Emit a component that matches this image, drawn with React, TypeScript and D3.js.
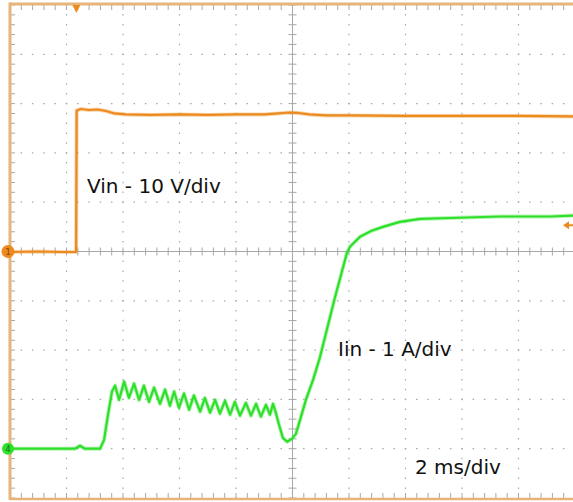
import React from 'react';
import * as d3 from 'd3';

// Vin (channel 1), 10 V/div, ground at centre line
const vinTime = [-10, -9, -8.2, -7.66, -7.64, -7.5, -7.2, -6.9, -6.6, -6.3, -5.9, -5, -4, -3, -2, -1, -0.5, -0.1, 0.2, 0.6, 1.2, 2, 4, 6, 8, 10];
const vinVolts = [-0.1, 0.0, -0.1, -0.1, 28.6, 28.9, 28.7, 28.8, 28.5, 28.0, 27.8, 27.7, 27.8, 27.7, 27.8, 27.8, 28.0, 28.2, 28.1, 27.8, 27.6, 27.6, 27.5, 27.5, 27.5, 27.4];

// Iin (channel 4), 1 A/div, ground 4 div below centre
const iinTime = [
  -10, -8.5, -7.7, -7.52, -7.35, -6.81, -6.67, -6.53, -6.39, -6.28, -6.14, -5.96, -5.79, -5.61, -5.43,
  -5.26, -5.08, -4.9, -4.69, -4.51, -4.34, -4.19, -4.02, -3.84, -3.66, -3.49, -3.27, -3.1, -2.92,
  -2.74, -2.57, -2.39, -2.21, -2.04, -1.86, -1.65, -1.47, -1.29, -1.12, -0.94, -0.8, -0.69, -0.58,
  -0.48, -0.34, -0.19, -0.02, 0.12, 0.27, 0.48, 0.73, 0.97, 1.5, 1.93, 2.04, 2.39, 2.8,
  3.2, 3.8, 4.51, 5.58, 7.35, 9.12, 10,
];
const iinAmps = [
  0, 0, 0, 0.06, 0, 0, 0.18, 0.69, 1.16, 1.28, 0.99, 1.36, 1.03, 1.32, 0.99,
  1.28, 0.95, 1.24, 0.91, 1.2, 0.87, 1.16, 0.83, 1.12, 0.79, 1.08, 0.75, 1.03, 0.73,
  0.99, 0.71, 0.97, 0.69, 0.95, 0.67, 0.93, 0.67, 0.91, 0.65, 0.89, 0.69, 0.91, 0.71,
  0.49, 0.22, 0.14, 0.2, 0.3, 0.59, 1.0, 1.4, 1.85, 3.06, 3.98, 4.1, 4.3, 4.42,
  4.5, 4.6, 4.66, 4.68, 4.71, 4.71, 4.73,
];

const labels = ['Vin - 10 V/div', 'Iin - 1 A/div', '2 ms/div'];
const triggerTime = -7.65;
const triggerLevelVolts = 5.3;

const W = 573;
const H = 502;
const left = 10;
const right = 575;
const top = 5;
const bottom = 498;

const ORANGE = '#ec8a1e';
const GREEN = '#2ee02a';
const FRAME = '#e8b47a';
const GRID = '#a8a8a8';

export default function App() {
  const x = d3.scaleLinear().domain([-10, 10]).range([left, right]);
  const y = d3.scaleLinear().domain([-5, 5]).range([bottom, top]);

  const majorX = d3.range(-10, 10.01, 2);
  const majorY = d3.range(-5, 5.01, 1);
  const minorX = d3.range(-10, 10.01, 0.4);
  const minorY = d3.range(-5, 5.01, 0.2);

  const vinLine = d3
    .line<number>()
    .x((_, i) => x(vinTime[i]))
    .y((d) => y(d / 10));
  const iinLine = d3
    .line<number>()
    .x((_, i) => x(iinTime[i]))
    .y((d) => y(d - 4));

  const dx = x(0.4) - x(0);
  const dy = y(0) - y(0.2);

  const vinD = vinLine(vinVolts) ?? '';
  const iinD = iinLine(iinAmps) ?? '';

  return (
    <svg width={W} height={H} style={{ position: 'absolute', left: 0, top: 0, background: '#fff' }}>
      {/* dotted grid */}
      {majorX.filter((t) => t !== 0 && t !== -10).map((t) => (
        <line key={'gx' + t} x1={x(t)} x2={x(t)} y1={top - 0.75} y2={bottom}
          stroke={GRID} strokeWidth={1.2} strokeDasharray={`1.5 ${dy - 1.5}`} />
      ))}
      {majorY.filter((v) => v !== 0 && v !== 5 && v !== -5).map((v) => (
        <line key={'gy' + v} x1={left - 0.75} x2={right} y1={y(v)} y2={y(v)}
          stroke={GRID} strokeWidth={1.2} strokeDasharray={`1.5 ${dx - 1.5}`} />
      ))}

      {/* centre cross with ticks */}
      <line x1={left} x2={right} y1={y(0)} y2={y(0)} stroke={GRID} strokeWidth={1} />
      <line x1={x(0)} x2={x(0)} y1={top} y2={bottom} stroke={GRID} strokeWidth={1} />
      {minorX.map((t) => (
        <line key={'cx' + t} x1={x(t)} x2={x(t)} y1={y(0) - 4} y2={y(0) + 4} stroke={GRID} strokeWidth={1} />
      ))}
      {minorY.map((v) => (
        <line key={'cy' + v} x1={x(0) - 4} x2={x(0) + 4} y1={y(v)} y2={y(v)} stroke={GRID} strokeWidth={1} />
      ))}

      {/* frame ticks */}
      {minorX.map((t) => (
        <g key={'fx' + t}>
          <line x1={x(t)} x2={x(t)} y1={top} y2={top + 5} stroke={GRID} strokeWidth={1} />
          <line x1={x(t)} x2={x(t)} y1={bottom} y2={bottom - 5} stroke={GRID} strokeWidth={1} />
        </g>
      ))}
      {minorY.map((v) => (
        <line key={'fy' + v} x1={left} x2={left + 5} y1={y(v)} y2={y(v)} stroke={GRID} strokeWidth={1} />
      ))}

      {/* frame */}
      <line x1={left} x2={right} y1={top - 1} y2={top - 1} stroke={FRAME} strokeWidth={3} />
      <line x1={left} x2={right} y1={bottom + 1} y2={bottom + 1} stroke={FRAME} strokeWidth={2.5} />
      <line x1={left} x2={left} y1={top - 2.5} y2={bottom + 2} stroke={FRAME} strokeWidth={3} />

      {/* traces (soft halo for the noise band, then the trace) */}
      <path d={vinD} fill="none" stroke={ORANGE} strokeOpacity={0.35} strokeWidth={4} strokeLinejoin="round" />
      <path d={vinD} fill="none" stroke={ORANGE} strokeWidth={2.2} strokeLinejoin="round" />
      <path d={iinD} fill="none" stroke={GREEN} strokeOpacity={0.35} strokeWidth={4} strokeLinejoin="round" />
      <path d={iinD} fill="none" stroke={GREEN} strokeWidth={2.2} strokeLinejoin="round" />

      {/* trigger position marker */}
      <path d={`M${x(triggerTime) - 4},${top} L${x(triggerTime) + 4},${top} L${x(triggerTime)},${top + 8} Z`} fill={ORANGE} />
      {/* trigger level arrow */}
      <path
        d={`M${right - 12},${y(triggerLevelVolts / 10)} l6,-4 l0,3 l8,0 l0,2 l-8,0 l0,3 Z`}
        fill={ORANGE}
      />

      {/* channel ground markers */}
      <circle cx={8} cy={y(0)} r={6.5} fill={ORANGE} />
      <text x={8} y={y(0) + 3.5} fontSize={9} textAnchor="middle" fill="#8a4a00" fontFamily="DejaVu Sans">1</text>
      <circle cx={8} cy={y(-4)} r={6} fill={GREEN} />
      <text x={8} y={y(-4) + 3} fontSize={8} textAnchor="middle" fill="#127012" fontFamily="DejaVu Sans">4</text>

      {/* labels */}
      <text x={87} y={193} fontSize={20} fill="#111" fontFamily="DejaVu Sans">{labels[0]}</text>
      <text x={338} y={356} fontSize={20} fill="#111" fontFamily="DejaVu Sans">{labels[1]}</text>
      <text x={415} y={474} fontSize={20} fill="#111" fontFamily="DejaVu Sans">{labels[2]}</text>
    </svg>
  );
}
